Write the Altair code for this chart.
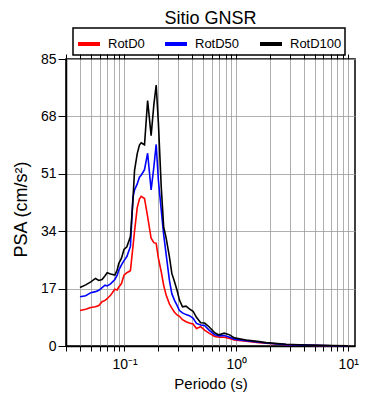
import altair as alt
import pandas as pd

periods = [0.040, 0.045, 0.050, 0.055, 0.059, 0.063, 0.067, 0.070, 0.075, 0.082,
           0.086, 0.089, 0.094, 0.099, 0.105, 0.113, 0.119, 0.123, 0.130, 0.136,
           0.141, 0.151, 0.161, 0.173, 0.183, 0.192, 0.201, 0.213, 0.224, 0.236,
           0.252, 0.265, 0.28, 0.295, 0.31, 0.33, 0.355, 0.38, 0.41, 0.44,
           0.48, 0.52, 0.57, 0.64, 0.70, 0.78, 0.87, 0.96, 1.22, 1.6,
           1.84, 2.78, 4.19, 7.2, 10.0]

rotd100 = [17.3, 18.1, 19.0, 20.0, 19.4, 19.7, 20.8, 21.7, 21.3, 21.0,
           22.5, 24.5, 26.0, 28.6, 29.4, 32.4, 43.2, 52.0, 57.0, 59.5,
           60.2, 59.6, 72.7, 62.3, 71.4, 77.3, 66.0, 47.2, 35.3, 31.9,
           26.5, 21.5, 19.0, 16.5, 13.6, 11.6, 11.8, 11.0, 10.3, 8.5,
           6.9, 6.8, 5.7, 3.9, 3.3, 3.8, 3.3, 2.4, 1.8, 1.3,
           1.0, 0.5, 0.3, 0.1, 0.05]

rotd50 = [14.6, 14.9, 15.8, 16.1, 16.5, 17.3, 18.0, 17.8, 18.4, 19.7,
          21.0, 22.5, 24.0, 25.3, 26.5, 29.5, 44.0, 46.2, 48.0, 50.0,
          50.6, 52.2, 57.1, 46.2, 53.0, 59.7, 49.0, 40.3, 33.0, 27.0,
          19.5, 15.5, 13.5, 12.0, 10.5, 9.8, 9.3, 9.0, 8.3, 6.7,
          6.2, 6.1, 4.7, 3.3, 3.0, 3.1, 2.6, 2.0, 1.6, 1.1,
          0.9, 0.4, 0.25, 0.08, 0.04]

rotd0 = [10.5, 10.9, 11.4, 11.6, 12.0, 13.1, 13.5, 14.0, 15.0, 16.8,
         16.6, 17.5, 18.5, 21.0, 21.7, 22.3, 29.4, 34.0, 41.0, 43.5,
         44.3, 43.7, 38.3, 31.9, 30.6, 30.4, 26.0, 22.0, 18.0, 15.0,
         12.5, 11.2, 10.0, 9.2, 8.8, 7.8, 7.2, 6.8, 6.5, 5.2,
         5.7, 4.7, 3.8, 2.8, 2.6, 2.6, 2.2, 1.8, 1.4, 1.0,
         0.8, 0.35, 0.2, 0.06, 0.03]

series_names = ["RotD0", "RotD50", "RotD100"]
series_colors = ["#ff0000", "#0000ff", "#000000"]
y_ticks = [0, 17, 34, 51, 68, 85]
x_ticks = [0.03, 0.04, 0.05, 0.06, 0.07, 0.08, 0.09,
           0.1, 0.2, 0.3, 0.4, 0.5, 0.6, 0.7, 0.8, 0.9,
           1, 2, 3, 4, 5, 6, 7, 8, 9, 10]

rows = []
for name, vals in zip(series_names, [rotd0, rotd50, rotd100]):
    for p, v in zip(periods, vals):
        rows.append({"serie": name, "periodo": p, "psa": v})
df = pd.DataFrame(rows)

FONT = "Liberation Sans"
xscale = alt.Scale(type="log", domain=[0.03, 11.5], nice=False)
yscale = alt.Scale(domain=[0, 85], nice=False)

label_expr = ("datum.value == 0.1 ? '10\u207b\u00b9' : datum.value == 1 ? '10\u2070' : "
              "datum.value == 10 ? '10\u00b9' : ''")

y_axis = alt.Axis(values=y_ticks, grid=True, gridColor="#9a9a9a", gridWidth=0.8,
                  tickColor="black", tickSize=8, domainColor="black", domainWidth=1.5,
                  labelFontSize=14, labelFont=FONT, labelColor="black", labelPadding=2,
                  title="PSA (cm/s\u00b2)", titleFont=FONT, titleFontSize=18,
                  titleFontWeight="normal", titleColor="black", titlePadding=10,
                  titleY=150)

lines = alt.Chart(df).mark_line(strokeWidth=1.6).encode(
    x=alt.X("periodo:Q", scale=xscale,
            axis=alt.Axis(values=x_ticks, labelExpr=label_expr, grid=True,
                          gridColor="#9a9a9a", gridWidth=0.8, tickColor="black",
                          tickSize=5, domainColor="black", domainWidth=1.5,
                          labelFontSize=14, labelFont=FONT, labelColor="black",
                          labelFlush=False, labelOverlap=False, labelPadding=6,
                          title="Periodo (s)", titleFont=FONT, titleFontSize=15,
                          titleFontWeight="normal", titleColor="black", titlePadding=5)),
    y=alt.Y("psa:Q", scale=yscale, axis=y_axis),
    color=alt.Color("serie:N",
                    scale=alt.Scale(domain=series_names, range=series_colors),
                    legend=alt.Legend(orient="none", legendX=7, legendY=-31,
                                      direction="horizontal", title=None,
                                      symbolType="stroke", symbolStrokeWidth=4,
                                      symbolSize=484, labelFontSize=13, labelFont=FONT,
                                      labelColor="black", labelOffset=6, columnPadding=12,
                                      padding=3, strokeColor="black")),
)

top_axis = alt.Chart(df).mark_line(opacity=0).encode(
    x=alt.X("periodo:Q", scale=xscale,
            axis=alt.Axis(orient="top", values=x_ticks, labels=False, grid=False,
                          tickColor="black", tickSize=5, domain=False, title=None)),
    y=alt.Y("psa:Q", scale=yscale, axis=y_axis),
    detail="serie:N",
)

chart = alt.layer(lines, top_axis).resolve_axis(x="independent").properties(
    width=289, height=287,
    title=alt.Title("Sitio GNSR", font=FONT, fontSize=18, fontWeight="normal",
                    color="black", anchor="middle", offset=-1),
    autosize=alt.AutoSizeParams(type="none"),
    padding={"left": 58, "top": 51, "right": 20, "bottom": 50},
).configure_view(stroke="black", strokeWidth=1.5).configure_legend(strokeWidth=1.5)

chart.save("out.html", embed_options={"renderer": "svg", "actions": False})
